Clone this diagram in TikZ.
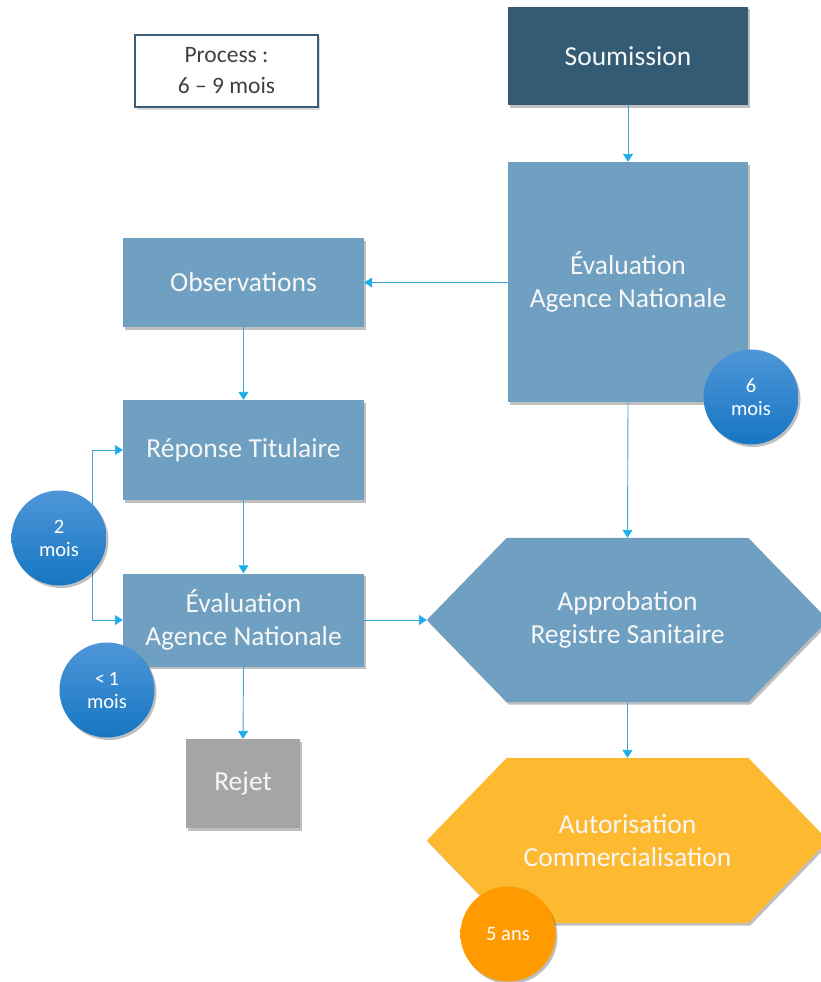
\documentclass[tikz,border=0pt]{standalone}
\usepackage{fontspec}
\setmainfont{Carlito}
\usetikzlibrary{arrows.meta,shadows}
\definecolor{darkbox}{HTML}{335B74}
\definecolor{lightbox}{HTML}{6FA0C1}
\definecolor{greybox}{HTML}{A5A5A5}
\definecolor{goldbox}{HTML}{FDB930}
\definecolor{orangec}{HTML}{FF9A00}
\definecolor{bluetop}{HTML}{4F96D8}
\definecolor{bluebot}{HTML}{1676C2}
\definecolor{linkc}{HTML}{42A5D8}
\definecolor{tipc}{HTML}{1EADE8}
\definecolor{procborder}{HTML}{3E5C74}
\definecolor{proctext}{HTML}{404040}
\tikzset{
  shad/.style={drop shadow={shadow xshift=2pt,shadow yshift=-2.5pt,opacity=0.25,fill=black}},
  boxtext/.style={text=white!94!gray,font=\fontsize{27.5}{33}\selectfont,align=center},
  flowbox/.style={shape=rectangle,inner sep=0pt,fill=lightbox,shad,boxtext},
  circtext/.style={text=white,font=\fontsize{20.5}{23}\selectfont,align=center},
  badge/.style={shape=circle,inner sep=0pt,minimum size=95pt,shading=axis,top color=bluetop,bottom color=bluebot,shad,circtext},
  link/.style={draw=linkc,line width=0.9pt,-{Triangle[width=10pt,length=8pt,color=tipc]}},
  dlink/.style={draw=linkc,line width=0.9pt,{Triangle[width=10pt,length=8pt,color=tipc]}-{Triangle[width=10pt,length=8pt,color=tipc]}},
}
\begin{document}
\begin{tikzpicture}[x=1pt,y=-1pt]
\useasboundingbox (0,0) rectangle (820,982);
% process box
\node[shape=rectangle,inner sep=0pt,minimum width=183pt,minimum height=72pt,fill=white,draw=procborder,line width=1.3pt,drop shadow={shadow xshift=2pt,shadow yshift=-2.5pt,opacity=0.15,fill=black},text=proctext,font=\fontsize{23.5}{31}\selectfont,align=center] (proc) at (226.5,71) {Process :\\6 -- 9 mois};
% boxes
\node[flowbox,fill=darkbox,minimum width=240pt,minimum height=98pt] (soum) at (628,56) {Soumission};
\node[flowbox,minimum width=240pt,minimum height=240pt] (eval1) at (628,282) {Évaluation\\Agence Nationale};
\node[flowbox,minimum width=241pt,minimum height=89pt] (obs) at (243.5,282.5) {Observations};
\node[flowbox,minimum width=241pt,minimum height=100pt] (rep) at (243.5,450) {Réponse Titulaire};
\node[flowbox,minimum width=241pt,minimum height=93pt] (eval2) at (243.5,620) {Évaluation\\Agence Nationale};
\node[flowbox,fill=greybox,minimum width=114pt,minimum height=89pt] (rejet) at (243,783.5) {Rejet};
% hexagons
\path node[shape=rectangle,inner sep=0pt,minimum width=401pt,minimum height=164pt] (appr) at (627.5,620) {};
\fill[lightbox,shad] (appr.west) -- ([xshift=80pt]appr.north west) -- ([xshift=-80pt]appr.north east) -- (appr.east) -- ([xshift=-80pt]appr.south east) -- ([xshift=80pt]appr.south west) -- cycle;
\node[boxtext] (apprtxt) at (appr.center) {Approbation\\Registre Sanitaire};
\path node[shape=rectangle,inner sep=0pt,minimum width=401pt,minimum height=165pt] (auto) at (627.5,840.5) {};
\fill[goldbox,shad] (auto.west) -- ([xshift=80pt]auto.north west) -- ([xshift=-80pt]auto.north east) -- (auto.east) -- ([xshift=-80pt]auto.south east) -- ([xshift=80pt]auto.south west) -- cycle;
\node[boxtext] (autotxt) at (auto.center) {Autorisation\\Commercialisation};
% connectors
\draw[link] (soum.south) -- (eval1.north);
\draw[link] (eval1.west |- obs.east) -- (obs.east);
\draw[link] (obs.south) -- (rep.north);
\draw[link] (rep.south) -- (eval2.north);
\coordinate (loopx) at (92,0);
\draw[dlink] (rep.west) -- (loopx |- rep.west) -- (loopx |- eval2.west) -- (eval2.west);
\draw[link] (eval2.east) -- (appr.west);
\draw[link] (eval2.south) -- (rejet.north);
\draw[link] (eval1.south) -- (appr.north);
\draw[link] (appr.south) -- (auto.north);
% badges
\node[badge] (c6) at (751,397) {6\\mois};
\node[badge] (c2) at (59,538) {2\\mois};
\node[badge] (c1) at (107,690) {<\,1\\mois};
\node[badge,shading=axis,top color=orangec,bottom color=orangec] (c5) at (508,934) {5 ans};
\end{tikzpicture}
\end{document}
